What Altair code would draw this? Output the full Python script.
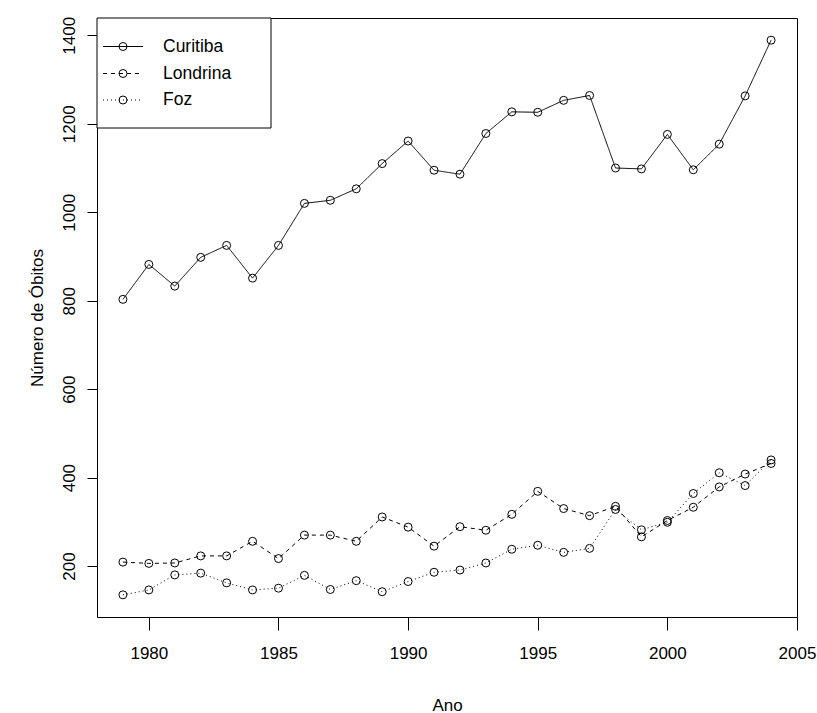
import altair as alt
import pandas as pd

years = [1979, 1980, 1981, 1982, 1983, 1984, 1985, 1986, 1987, 1988, 1989, 1990, 1991,
         1992, 1993, 1994, 1995, 1996, 1997, 1998, 1999, 2000, 2001, 2002, 2003, 2004]
curitiba = [803, 882, 833, 898, 925, 851, 925, 1020, 1027, 1053, 1110, 1161, 1095,
            1086, 1178, 1227, 1226, 1253, 1264, 1100, 1098, 1176, 1096, 1154, 1263, 1389]
londrina = [209, 206, 207, 223, 223, 256, 217, 270, 270, 256, 311, 288, 245,
            289, 281, 317, 369, 330, 314, 335, 266, 303, 333, 379, 408, 432]
foz = [135, 146, 180, 184, 162, 146, 150, 179, 147, 167, 142, 165, 186,
       191, 207, 238, 247, 231, 240, 328, 282, 299, 364, 411, 382, 440]
series_names = ["Curitiba", "Londrina", "Foz"]
x_ticks = [1980, 1985, 1990, 1995, 2000, 2005]
y_ticks = [200, 400, 600, 800, 1000, 1200, 1400]

dashes = [[1, 0], [4, 4], [1, 3]]
FONT = "Liberation Sans"

df = pd.DataFrame({
    "Ano": years * 3,
    "Valor": curitiba + londrina + foz,
    "Cidade": ["Curitiba"] * len(years) + ["Londrina"] * len(years) + ["Foz"] * len(years),
})

lo, hi = min(df["Valor"]), max(df["Valor"])
pad = 0.04 * (hi - lo)
x_scale = alt.Scale(domain=[1978, 2005], nice=False, zero=False)
y_scale = alt.Scale(domain=[lo - pad, hi + pad], nice=False, zero=False)

x_axis = alt.Axis(values=x_ticks, format="d", title="Ano", domain=False, grid=False,
                  tickSize=13, labelPadding=15, labelOverlap=False, labelBound=False,
                  labelFlush=False, titleY=93, titleBaseline="alphabetic")
y_axis = alt.Axis(values=y_ticks, format="d", title="Número de Óbitos", domain=False, grid=False,
                  tickSize=10, labelAngle=-90, labelAlign="center", labelBaseline="alphabetic",
                  labelPadding=13, labelOverlap=False, labelBound=False, labelFlush=False,
                  titleX=-55, titleY=299.5, titleAngle=-90, titleAlign="center",
                  titleBaseline="alphabetic")

base = alt.Chart(df).encode(
    x=alt.X("Ano:Q", scale=x_scale, axis=x_axis),
    y=alt.Y("Valor:Q", scale=y_scale, axis=y_axis),
)
lines = base.mark_line(color="black", strokeWidth=1).encode(
    strokeDash=alt.StrokeDash("Cidade:N", scale=alt.Scale(domain=series_names, range=dashes), legend=None),
    detail="Cidade:N",
)
points = base.mark_point(shape="circle", filled=False, color="black", size=64,
                         strokeWidth=1, opacity=1).encode(detail="Cidade:N")

dummy = pd.DataFrame({"k": [0]})
legend_layers = [
    alt.Chart(dummy).mark_rect(fill="white", stroke="black", strokeWidth=1).encode(
        x=alt.value(0), x2=alt.value(174), y=alt.value(0), y2=alt.value(110))
]
row_y = [28.5, 55.5, 82]
for i, name in enumerate(series_names):
    legend_layers.append(
        alt.Chart(dummy).mark_rule(color="black", strokeWidth=1, strokeDash=dashes[i]).encode(
            x=alt.value(6), x2=alt.value(46), y=alt.value(row_y[i])))
    legend_layers.append(
        alt.Chart(dummy).mark_point(shape="circle", filled=False, color="black", size=64,
                                    strokeWidth=1, opacity=1).encode(
            x=alt.value(26), y=alt.value(row_y[i])))
    legend_layers.append(
        alt.Chart(pd.DataFrame({"Cidade": [name]})).mark_text(
            align="left", baseline="middle", fontSize=17.5, font=FONT, color="black").encode(
            x=alt.value(66), y=alt.value(row_y[i]), text="Cidade:N"))

chart = alt.layer(lines, points, *legend_layers).properties(
    width=700, height=599,
    padding={"left": 97, "top": 18, "right": 20, "bottom": 96},
    autosize=alt.AutoSizeParams(type="none"),
    background="white",
).configure_view(
    stroke="black", strokeWidth=1
).configure_axis(
    labelFont=FONT, titleFont=FONT, labelFontSize=17, titleFontSize=17,
    titleFontWeight="normal", labelColor="black", titleColor="black",
    tickColor="black", tickWidth=1,
)

chart.save("out.html", embed_options={"renderer": "svg", "actions": False})
